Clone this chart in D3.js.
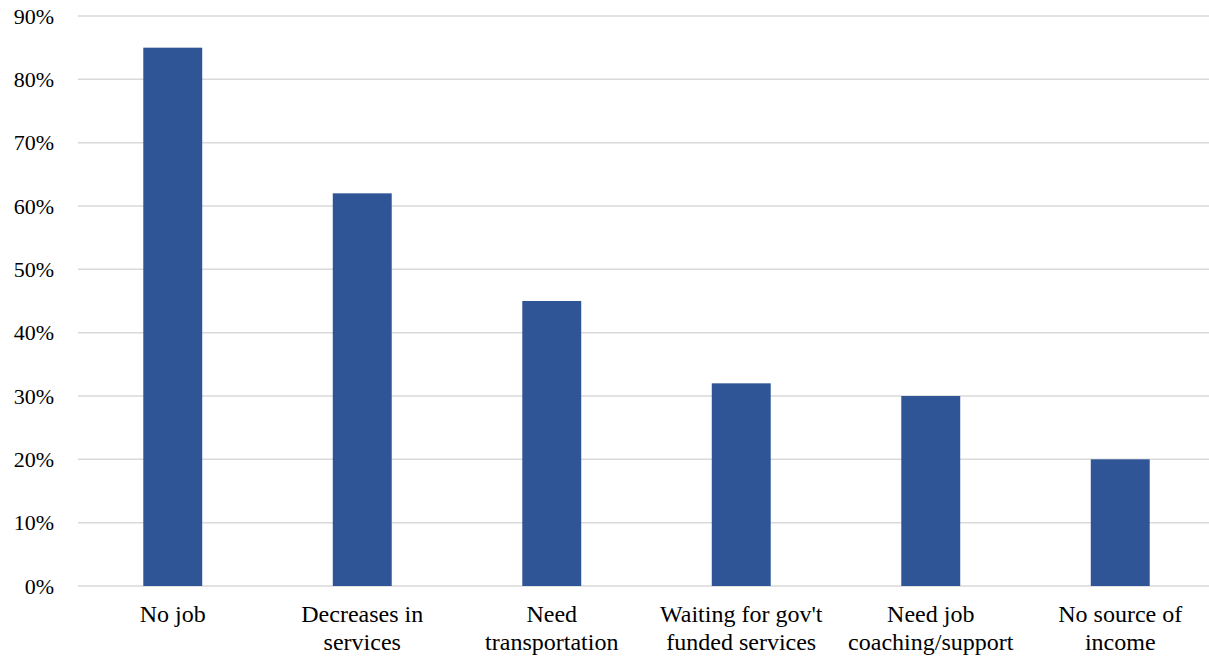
<!DOCTYPE html>
<html>
<head>
<meta charset="utf-8">
<script src="https://cdn.jsdelivr.net/npm/d3@7"></script>
<style>
  html, body { margin: 0; padding: 0; background: #fff; }
  svg { display: block; }
  text { font-family: "Liberation Serif", "Times New Roman", serif; fill: #000; }
</style>
</head>
<body>
<svg id="chart" width="1209" height="658"></svg>
<script>
// Share of respondents citing each barrier
const categories = [
  ["No job"],
  ["Decreases in", "services"],
  ["Need", "transportation"],
  ["Waiting for gov't", "funded services"],
  ["Need job", "coaching/support"],
  ["No source of", "income"]
];
const values = [0.85, 0.62, 0.45, 0.32, 0.30, 0.20];
const yTicks = [0, 0.1, 0.2, 0.3, 0.4, 0.5, 0.6, 0.7, 0.8, 0.9];

(function draw() {
  const svg = d3.select("#chart");
  const plot = { left: 78, right: 1215, top: 16, bottom: 586 };

  const x = d3.scaleBand()
    .domain(d3.range(categories.length))
    .range([plot.left, plot.right])
    .paddingInner(0.689)
    .paddingOuter(0.689 / 2);

  const y = d3.scaleLinear().domain([0, 0.9]).range([plot.bottom, plot.top]);

  // horizontal gridlines
  svg.append("g")
    .selectAll("line")
    .data(yTicks)
    .join("line")
    .attr("x1", plot.left)
    .attr("x2", plot.right)
    .attr("y1", d => y(d))
    .attr("y2", d => y(d))
    .attr("stroke", "#d9d9d9")
    .attr("stroke-width", 1.5);

  // y-axis labels
  svg.append("g")
    .selectAll("text")
    .data(yTicks)
    .join("text")
    .attr("x", 54)
    .attr("y", d => y(d))
    .attr("dy", "0.35em")
    .attr("text-anchor", "end")
    .style("font-size", "22px")
    .text(d => d3.format(".0%")(d));

  // bars
  svg.append("g")
    .selectAll("rect")
    .data(values)
    .join("rect")
    .attr("x", (d, i) => x(i))
    .attr("width", x.bandwidth())
    .attr("y", d => y(d))
    .attr("height", d => y(0) - y(d))
    .attr("fill", "#2f5597");

  // category labels
  const labels = svg.append("g")
    .selectAll("text")
    .data(categories)
    .join("text")
    .attr("x", (d, i) => x(i) + x.bandwidth() / 2)
    .attr("y", 622)
    .attr("text-anchor", "middle")
    .style("font-size", "24px");

  labels.selectAll("tspan")
    .data(d => d)
    .join("tspan")
    .attr("x", function() { return d3.select(this.parentNode).attr("x"); })
    .attr("dy", (d, i) => i === 0 ? 0 : 28)
    .text(d => d);
})();
</script>
</body>
</html>
